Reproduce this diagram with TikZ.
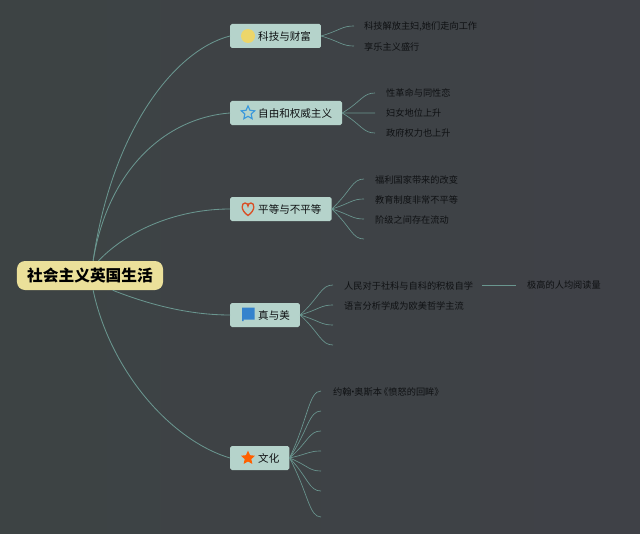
\documentclass[tikz,border=0pt]{standalone}
\usepackage{fontspec}
\setmainfont{Noto Sans CJK SC}
\usetikzlibrary{shapes.geometric,calc}
\definecolor{bgleft}{HTML}{3D4344}
\definecolor{bgright}{HTML}{3F4147}
\definecolor{linkcol}{HTML}{6A968F}
\definecolor{boxcol}{HTML}{B5D3CB}
\definecolor{rootcol}{HTML}{EBE09A}
\definecolor{inkcol}{HTML}{0F1113}
\tikzset{
    rootbox/.style={fill=rootcol,rounded corners=2.4mm,minimum width=4.38cm,minimum height=0.87cm,inner sep=0pt,text=black,font=\fontsize{13.4}{15}\selectfont\bfseries},
    branch/.style={fill=boxcol,rounded corners=0.5mm,anchor=west,minimum height=0.72cm,inner xsep=3mm,inner ysep=0pt,text=inkcol,font=\fontsize{9}{11}\selectfont},
    leaf/.style={anchor=west,inner sep=0pt,text=inkcol,font=\fontsize{7.85}{9}\selectfont},
    link/.style={linkcol,line width=0.25mm},
    sublink/.style={linkcol,line width=0.2mm},
}
\def\iconskip{\hspace*{5.4mm}}
\begin{document}
\begin{tikzpicture}[x=0.03cm,y=-0.03cm]
    \useasboundingbox (0,0) rectangle (640,534);
    \shade[left color=bgleft,right color=bgright] (0,0) rectangle (640,534);

    \node[rootbox] (root) at (90,275.5) {社会主义英国生活};
    \node[branch] (keji) at (230,36) {\iconskip 科技与财富};
    \node[branch] (ziyou) at (230,113) {\iconskip 自由和权威主义};
    \node[branch] (pingdeng) at (230,209) {\iconskip 平等与不平等};
    \node[branch] (zhenmei) at (230,315) {\iconskip 真与美};
    \node[branch] (wenhua) at (230,458) {\iconskip 文化};

    % icons
    \node[circle,fill=yellow!55!brown!70,minimum size=0.42cm,inner sep=0pt] (coin) at (248,36) {};
    \node[star,star points=5,star point ratio=2.1,draw=cyan!70!blue!80,line width=0.35mm,fill=none,minimum size=0.42cm,inner sep=0pt] (bluestar) at (248,113) {};
    \draw[red!55!orange!70!gray,line width=0.4mm] (248,215.5) .. controls (240,210) and (241.5,203) .. (245,203) .. controls (247,203) and (248,204.5) .. (248,206) .. controls (248,204.5) and (249,203) .. (251,203) .. controls (254.5,203) and (256,210) .. (248,215.5) -- cycle;
    \fill[cyan!55!blue!85] (242,307.5) rectangle (254.5,319.5) (242,319.5) rectangle (243.5,321);
    \node[star,star points=5,star point ratio=2.1,fill=orange!75!red,minimum size=0.44cm,inner sep=0pt] (orangestar) at (248,458) {};

    \draw[link] (root.78) .. controls (112,130) and (175,50) .. (keji.west);
    \draw[link] (root.78) .. controls (108,170) and (165,118) .. (ziyou.west);
    \draw[link] (root.60) .. controls (130,228) and (180,209) .. (pingdeng.west);
    \draw[link] (root.-33) .. controls (150,305) and (190,315) .. (zhenmei.west);
    \draw[link] (root.-78) .. controls (110,370) and (170,440) .. (wenhua.west);

    % leaves of each branch
    \foreach \n/\py in {a/26,b/46}
        \coordinate (keji\n) at (354,\py);
    \foreach \n/\py in {a/93,b/113,c/133}
        \coordinate (ziyou\n) at (375,\py);
    \foreach \n/\py in {a/179,b/199,c/219,d/239}
        \coordinate (pingdeng\n) at (364,\py);
    \foreach \n/\py in {a/285,b/305,c/325,d/345}
        \coordinate (zhenmei\n) at (333,\py);
    \foreach \n/\py in {a/391,b/411,c/431,d/451,e/471,f/491,g/517}
        \coordinate (wenhua\n) at (321,\py);

    \foreach \b/\ends in {keji/{a,b},ziyou/{a,b,c},pingdeng/{a,b,c,d},zhenmei/{a,b,c,d},wenhua/{a,b,c,d,e,f,g}}
        \foreach \n in \ends
            \draw[sublink] (\b.east) .. controls ($(\b.east)!0.6!(\b\n)$) and ($(\b\n)+(-12,0)$) .. (\b\n);

    \node[leaf] (kejiA) at (364,27) {科技解放主妇,她们走向工作};
    \node[leaf] (kejiB) at (364,47) {享乐主义盛行};
    \node[leaf] (ziyouA) at (386,93) {性革命与同性恋};
    \node[leaf] (ziyouB) at (386,113) {妇女地位上升};
    \node[leaf] (ziyouC) at (386,133) {政府权力也上升};
    \node[leaf] (pingdengA) at (375,179.5) {福利国家带来的改变};
    \node[leaf] (pingdengB) at (375,199.5) {教育制度非常不平等};
    \node[leaf] (pingdengC) at (375,219.5) {阶级之间存在流动};
    \node[leaf] (zhenmeiA) at (344,285.5) {人民对于社科与自科的积极自学};
    \node[leaf] (zhenmeiB) at (344,305.5) {语言分析学成为欧美哲学主流};
    \node[leaf] (yuedu) at (527,285.5) {极高的人均阅读量};
    \node[leaf] (wenhuaA) at (333,392) {约翰\hspace{-0.35em}·\hspace{-0.35em}奥斯本\hspace{-0.3em}《愤怒的回眸》};

    \draw[sublink] ([xshift=2.7mm]zhenmeiA.east) -- ([xshift=-3.3mm]yuedu.west);
\end{tikzpicture}
\end{document}
